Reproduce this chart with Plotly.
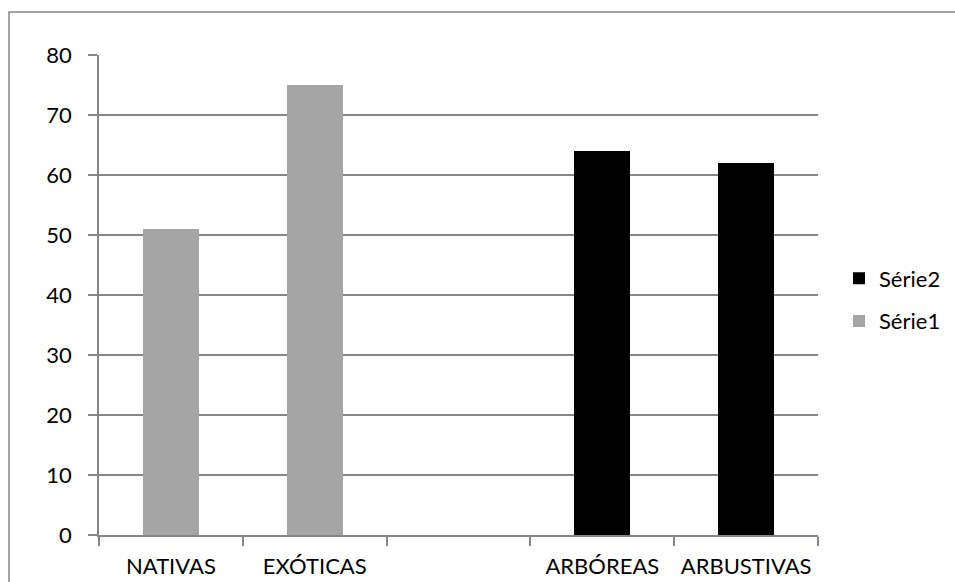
import plotly.graph_objects as go

# Category axis (the middle slot is intentionally left empty)
categorias = ["NATIVAS", "EXÓTICAS", " ", "ARBÓREAS", "ARBUSTIVAS"]
serie1 = [51, 75, None, None, None]
serie2 = [None, None, None, 64, 62]
y_ticks = [0, 10, 20, 30, 40, 50, 60, 70, 80]

GRAY = "#868686"
FONT = dict(family="Lato, 'Open Sans', sans-serif", size=22, color="#000000")

fig = go.Figure()
fig.add_trace(go.Bar(name="Série1", x=categorias, y=serie1, legendgroup="s1",
                     legendrank=2,
                     marker=dict(color="#A5A5A5", line=dict(width=0))))
fig.add_trace(go.Bar(name="Série2", x=categorias, y=serie2, legendgroup="s2",
                     legendrank=1,
                     marker=dict(color="#000000", line=dict(width=0))))

# plot area in pixels: x 99..818, y 55..535
W, H = 955, 582
L, R, T, B = 99, 818, 55, 535
pw, ph = R - L, B - T

def px(x):
    return (x - L) / pw

def py(y):
    return (B - y) / ph

fig.update_layout(
    width=W, height=H,
    margin=dict(l=L, r=W - R, t=T, b=H - B, pad=0, autoexpand=False),
    paper_bgcolor="white", plot_bgcolor="white",
    barmode="stack", bargap=0.61,
    font=FONT,
    showlegend=True,
    legend=dict(traceorder="grouped", tracegroupgap=11,
                x=px(839), xanchor="left",
                y=py(300), yanchor="middle", font=FONT,
                bgcolor="rgba(0,0,0,0)", itemwidth=30),
    xaxis=dict(type="category", categoryorder="array", categoryarray=categorias,
               showline=True, linecolor=GRAY, linewidth=1.5,
               ticks="outside", tickson="boundaries", ticklen=9,
               tickcolor=GRAY, tickwidth=1.5, showgrid=False, automargin=False,
               ticklabelstandoff=11, tickfont=FONT),
    yaxis=dict(range=[0, 80], tickvals=y_ticks, showline=True,
               linecolor=GRAY, linewidth=1.5, ticks="outside", ticklen=9,
               tickcolor=GRAY, tickwidth=1.5, showgrid=True, automargin=False,
               gridcolor=GRAY, gridwidth=1.5, zeroline=False,
               ticklabelstandoff=12, tickfont=FONT),
    shapes=[dict(type="rect", xref="paper", yref="paper",
                 x0=px(9), x1=px(970), y0=py(600), y1=py(12),
                 line=dict(color=GRAY, width=1.5), layer="below")],
)

fig.write_html("out.html")
